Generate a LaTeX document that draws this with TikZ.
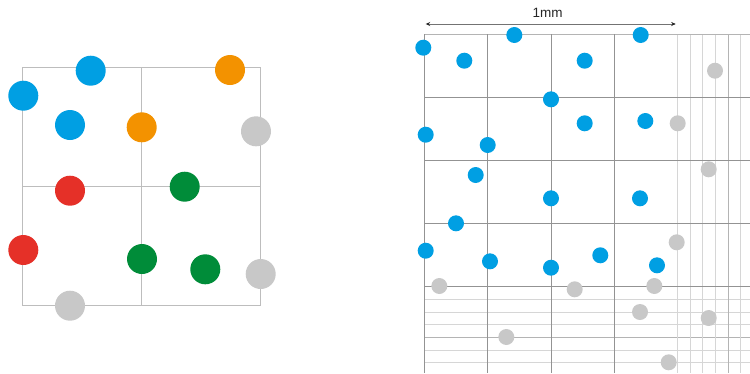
\documentclass[tikz,border=0pt]{standalone}
\usepackage{fontspec}
\setmainfont{Liberation Sans}
\usetikzlibrary{arrows.meta}
\definecolor{cblue}{HTML}{009FE3}
\definecolor{corange}{HTML}{F39200}
\definecolor{cred}{HTML}{E53028}
\definecolor{cgreen}{HTML}{008C39}
\definecolor{cgray}{HTML}{C8C8C8}
\definecolor{gridA}{HTML}{BDBDBD}
\definecolor{gridMajor}{HTML}{939393}
\definecolor{gridMinor}{HTML}{D6D6D6}
\definecolor{gridMid}{HTML}{B4B4B4}
\tikzset{
  bigdot/.style={circle,inner sep=0pt,minimum size=30pt,draw=none,fill=#1},
  smalldot/.style={circle,inner sep=0pt,minimum size=16pt,draw=none,fill=#1},
  leftgrid/.style={draw=gridA,line width=0.9pt},
  majorline/.style={draw=gridMajor,line width=0.8pt},
  minorline/.style={draw=gridMinor,line width=0.8pt},
  midline/.style={draw=gridMid,line width=0.8pt},
  dimline/.style={draw=black!55,line width=0.7pt,{Stealth[length=4.5pt,width=4pt,color=black!85]}-{Stealth[length=4.5pt,width=4pt,color=black!85]}},
  lbl/.style={font=\fontsize{13.5}{15}\selectfont,text=black!85,inner sep=0pt}
}
\begin{document}
\begin{tikzpicture}[x=1pt,y=-1pt]
\useasboundingbox (0,0) rectangle (750,373);
% ---------- left panel grid ----------
\draw[leftgrid] (22,67.3) rectangle (260.5,305.7);
\draw[leftgrid] (141.7,67.3) -- (141.7,305.7);
\draw[leftgrid] (22,186.5) -- (260.5,186.5);
% ---------- left panel dots ----------
\node[bigdot=cblue] (lb1) at (90.7,70.7) {};
\node[bigdot=cblue] (lb2) at (23.3,95.7) {};
\node[bigdot=cblue] (lb3) at (70,125) {};
\node[bigdot=corange] (lo1) at (230,70) {};
\node[bigdot=corange] (lo2) at (141.7,127.3) {};
\node[bigdot=cgray] (lg1) at (256,131.3) {};
\node[bigdot=cred] (lr1) at (70,190.7) {};
\node[bigdot=cgreen] (lgr1) at (184.7,186.7) {};
\node[bigdot=cred] (lr2) at (23.3,250) {};
\node[bigdot=cgreen] (lgr2) at (142,259) {};
\node[bigdot=cgreen] (lgr3) at (205.3,269.3) {};
\node[bigdot=cgray] (lg2) at (260.7,274) {};
\node[bigdot=cgray] (lg3) at (70,305.7) {};
% ---------- right panel grid ----------
\foreach \y in {299.3,312.3,324.7,350,362.7}
  \draw[minorline] (424.3,\y) -- (750,\y);
\draw[midline] (424.3,337) -- (750,337);
\foreach \x in {677,690,702.7,715.3,740.7}
  \draw[minorline] (\x,34.3) -- (\x,373);
\draw[midline] (728,34.3) -- (728,373);
\draw[midline] (424.3,34.3) -- (750,34.3);
\foreach \y in {97.3,160.7,223.3,286.7}
  \draw[majorline] (424.3,\y) -- (750,\y);
\foreach \x in {424.3,487.7,551.3,614.3}
  \draw[majorline] (\x,34.3) -- (\x,373);
% ---------- dimension ----------
\coordinate (d1) at (425.7,24);
\coordinate (d2) at (675.7,24);
\draw[dimline] (d1) -- (d2);
\node[lbl] (dim) at (547.7,13.3) {1mm};
% ---------- right panel dots ----------
\node[smalldot=cblue] (rb1) at (423.3,47.7) {};
\node[smalldot=cblue] (rb2) at (464.3,60.7) {};
\node[smalldot=cblue] (rb3) at (514.3,35) {};
\node[smalldot=cblue] (rb4) at (584.7,60.7) {};
\node[smalldot=cblue] (rb5) at (640.7,35) {};
\node[smalldot=cblue] (rb6) at (551,99.3) {};
\node[smalldot=cblue] (rb7) at (425.7,134.7) {};
\node[smalldot=cblue] (rb8) at (487.7,145) {};
\node[smalldot=cblue] (rb9) at (584.7,123.3) {};
\node[smalldot=cblue] (rb10) at (645.3,121) {};
\node[smalldot=cblue] (rb11) at (475.7,175) {};
\node[smalldot=cblue] (rb12) at (551,198.3) {};
\node[smalldot=cblue] (rb13) at (640,198.3) {};
\node[smalldot=cblue] (rb14) at (456,223.3) {};
\node[smalldot=cblue] (rb15) at (425.7,250.7) {};
\node[smalldot=cblue] (rb16) at (490,261.3) {};
\node[smalldot=cblue] (rb17) at (551,267.7) {};
\node[smalldot=cblue] (rb18) at (600.3,255.3) {};
\node[smalldot=cblue] (rb19) at (657,265.3) {};
\node[smalldot=cgray] (rg1) at (715,70.7) {};
\node[smalldot=cgray] (rg2) at (677.7,123.3) {};
\node[smalldot=cgray] (rg3) at (708.7,169.3) {};
\node[smalldot=cgray] (rg4) at (676.7,242.3) {};
\node[smalldot=cgray] (rg5) at (439.3,286) {};
\node[smalldot=cgray] (rg6) at (574.7,289.3) {};
\node[smalldot=cgray] (rg7) at (654.3,286) {};
\node[smalldot=cgray] (rg8) at (640,312) {};
\node[smalldot=cgray] (rg9) at (708.7,318) {};
\node[smalldot=cgray] (rg10) at (506.3,337) {};
\node[smalldot=cgray] (rg11) at (668.7,362.3) {};
\end{tikzpicture}
\end{document}
